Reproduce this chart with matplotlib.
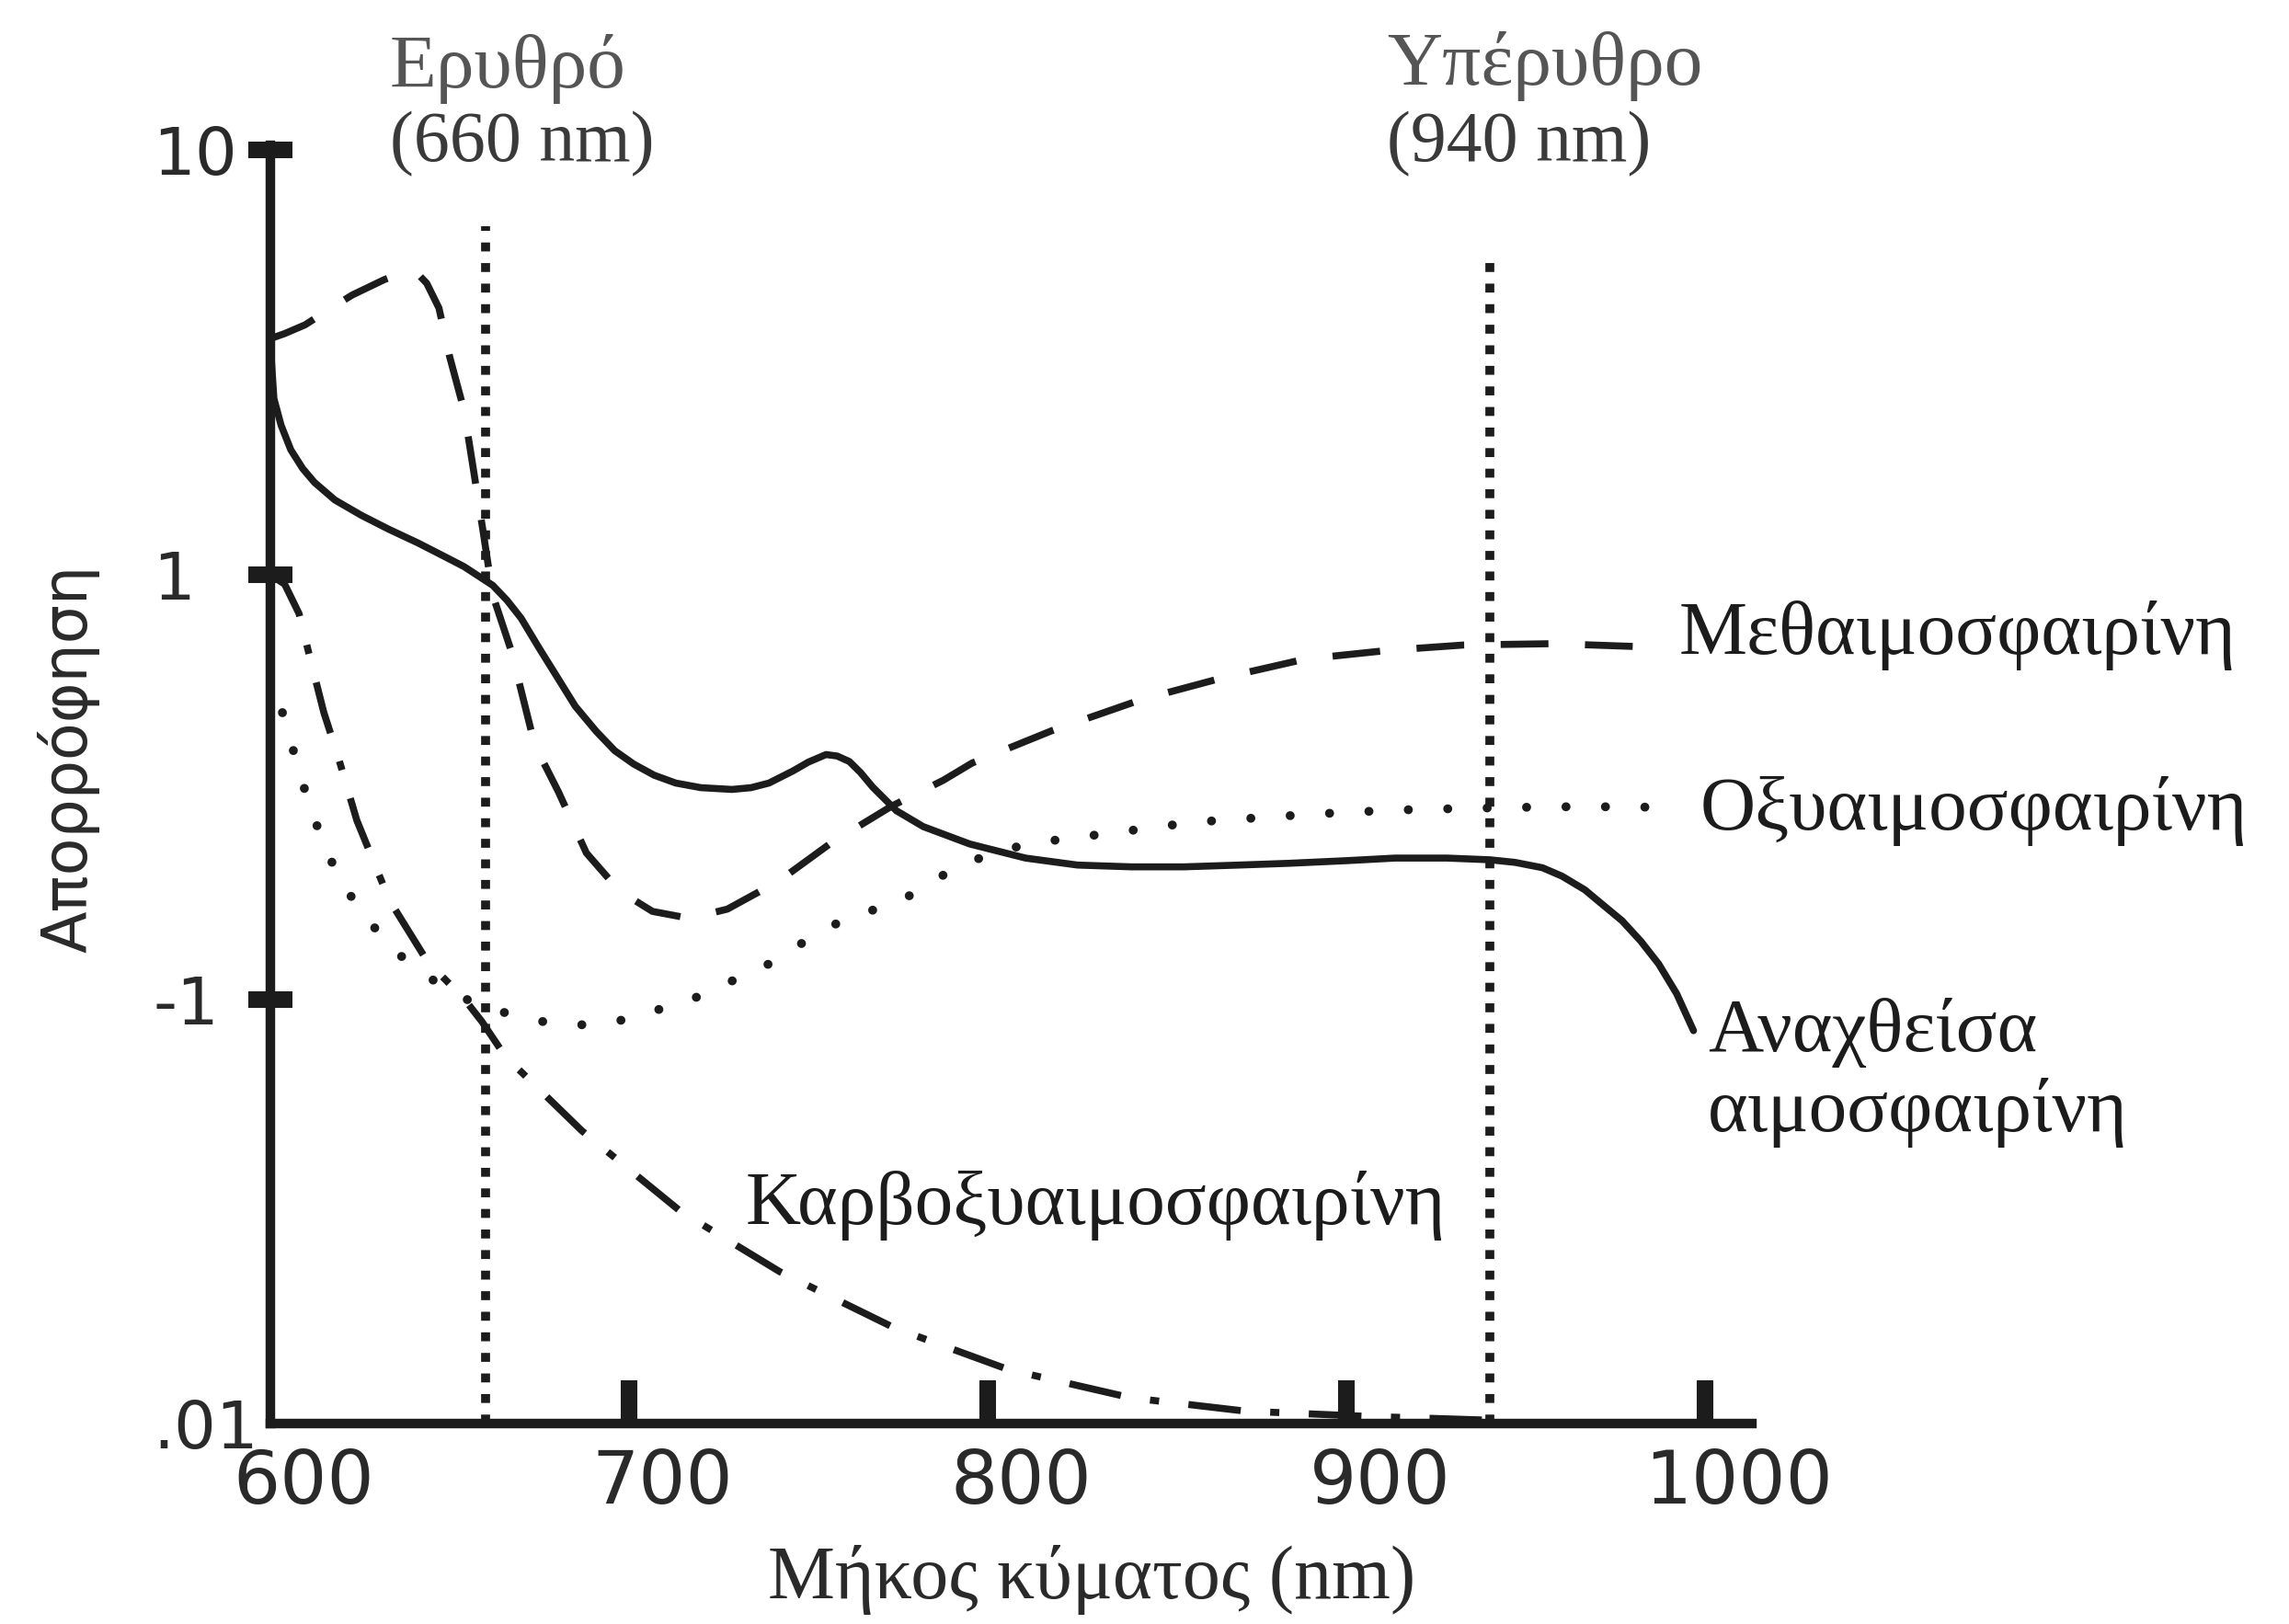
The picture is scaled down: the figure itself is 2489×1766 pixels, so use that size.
import matplotlib
matplotlib.use("Agg")
import matplotlib.pyplot as plt
from matplotlib.ticker import NullLocator
from matplotlib.transforms import ScaledTranslation

# -------- data (wavelength nm -> absorption, log scale) -------- #
deoxy_nm = [600, 601, 603, 605.7, 609, 612.3, 618, 625.4, 633, 641, 648, 654, 662, 666,
            669.9, 675, 680.4, 685, 690.8, 696, 701.3, 707, 713, 720, 728.7, 734, 739,
            745.7, 750, 754.9, 758, 761.4, 764.5, 767.9, 774.5, 782, 795, 810.5, 825,
            840, 854.6, 870, 884, 900, 913.5, 928, 940, 947, 954.6, 960, 966.4, 971,
            976.8, 982, 987, 992, 996.7]
deoxy_abs = [3.5, 2.6, 2.25, 1.97, 1.78, 1.65, 1.5, 1.38, 1.28, 1.19, 1.11, 1.045, 0.944,
             0.87, 0.79, 0.67, 0.566, 0.49, 0.428, 0.385, 0.358, 0.337, 0.323, 0.315,
             0.312, 0.315, 0.323, 0.345, 0.362, 0.377, 0.374, 0.363, 0.342, 0.316,
             0.278, 0.255, 0.232, 0.215, 0.207, 0.205, 0.205, 0.207, 0.209, 0.212,
             0.215, 0.215, 0.213, 0.21, 0.204, 0.195, 0.181, 0.168, 0.153, 0.137,
             0.121, 0.103, 0.0843]

met_nm = [600, 604, 609.7, 616, 622.8, 631.8, 637, 640.4, 643.6, 647, 650, 654, 656.7,
          659.4, 662, 667.2, 673.7, 680.3, 688.1, 697.3, 706.5, 716.9, 727.4, 741.8,
          756.2, 773.2, 787.6, 795.6, 817.8, 842.8, 864.9, 888.5, 912, 932.6, 957.7, 986]
met_abs = [3.6, 3.7, 3.88, 4.2, 4.56, 4.96, 5.15, 5.19, 4.86, 4.25, 3.26, 2.44, 1.75,
           1.25, 0.895, 0.66, 0.397, 0.308, 0.221, 0.18, 0.161, 0.155, 0.163, 0.19,
           0.233, 0.285, 0.328, 0.36, 0.429, 0.508, 0.57, 0.633, 0.664, 0.683, 0.688,
           0.675]

oxy_nm = [600, 601.5, 604.4, 607.7, 610.9, 614.9, 619.4, 626, 633.2, 642.4, 651.5, 659,
          674, 684.6, 696.3, 707, 718.7, 728.3, 738.9, 748.5, 758, 777, 789.7, 800, 811,
          822, 834, 845, 857, 868, 890.8, 913.5, 937, 957.7, 981, 993]
oxy_abs = [0.58, 0.54, 0.44, 0.354, 0.285, 0.233, 0.19, 0.159, 0.133, 0.115, 0.103,
           0.096, 0.089, 0.0867, 0.0885, 0.0938, 0.101, 0.11, 0.121, 0.136, 0.151,
           0.173, 0.201, 0.219, 0.232, 0.239, 0.246, 0.253, 0.261, 0.265, 0.273,
           0.279, 0.282, 0.284, 0.284, 0.281]

carboxy_nm = [600, 604, 608, 611, 614.9, 619, 624.1, 633.2, 643.7, 654.1, 659, 665.5,
              686.8, 714.4, 742, 774, 805.8, 839.9, 871.8, 905.8, 937.7]
carboxy_abs = [1.0, 0.95, 0.81, 0.64, 0.474, 0.37, 0.264, 0.171, 0.123, 0.1, 0.0885,
               0.0733, 0.049, 0.0316, 0.0228, 0.0168, 0.0134, 0.0115, 0.0107, 0.0104,
               0.0102]

# marker wavelengths and the height their dotted guides reach
guide_nm = [660, 940]
guide_top = [6.64, 5.73]

x_ticks = [600, 700, 800, 900, 1000]
y_ticks = [0.01, 0.1, 1, 10]
y_tick_labels = [".01", "-1", "1", "10"]

INK = "#1c1c1c"
SERIF = ["Liberation Serif", "DejaVu Serif"]
SANS = ["DejaVu Sans"]

fig = plt.figure(figsize=(24.89, 17.66), dpi=100)
ax = fig.add_axes([0.1181, 0.1234, 0.6473, 0.7874])
ax.set_yscale("log")
ax.set_xlim(600, 1013)
ax.set_ylim(0.01, 10.3)

# guides
for x, top in zip(guide_nm, guide_top):
    ax.plot([x, x], [0.01, top], color=INK, lw=7, linestyle=(0, (1, 1.3)),
            dash_capstyle="butt", zorder=2)

# curves
ax.plot(deoxy_nm, deoxy_abs, color=INK, lw=5.5, solid_capstyle="round",
        solid_joinstyle="round", zorder=3)
ax.plot(met_nm, met_abs, color=INK, lw=5.5, linestyle=(0, (6.8, 5.2)),
        dash_capstyle="butt", zorder=3)
ax.plot(oxy_nm, oxy_abs, color=INK, lw=7, linestyle=(0, (0.01, 4.4)),
        dash_capstyle="round", zorder=3)
ax.plot(carboxy_nm, carboxy_abs, color=INK, lw=5.5,
        linestyle=(0, (7.5, 4.2, 1.3, 4.2)), dash_capstyle="butt", zorder=3)

# axes styling
for side in ["top", "right"]:
    ax.spines[side].set_visible(False)
for side in ["left", "bottom"]:
    ax.spines[side].set_linewidth(7.5)
    ax.spines[side].set_color(INK)

ax.set_xticks(x_ticks)
ax.set_xticklabels([str(v) for v in x_ticks])
ax.set_yticks(y_ticks)
ax.set_yticklabels(y_tick_labels)
ax.yaxis.set_minor_locator(NullLocator())
ax.xaxis.set_minor_locator(NullLocator())

ax.tick_params(axis="x", direction="in", length=34, width=13, color=INK,
               pad=19, labelsize=58, labelcolor="#2a2a2a")
ax.tick_params(axis="y", direction="inout", length=34, width=13, color=INK,
               pad=75, labelsize=52, labelcolor="#2a2a2a")
for lab in ax.get_xticklabels() + ax.get_yticklabels():
    lab.set_family(SANS)
for lab in ax.get_yticklabels():
    lab.set_horizontalalignment("left")
for lab in ax.get_xticklabels():
    lab.set_transform(lab.get_transform() + ScaledTranslation(0.36, 0, fig.dpi_scale_trans))

# no tick marks at the origin corner
ax.xaxis.get_major_ticks()[0].tick1line.set_visible(False)
ax.yaxis.get_major_ticks()[0].tick1line.set_visible(False)

# headers over the guides
fig.text(0.1703, 0.946, "Ερυθρό", family=SERIF, fontsize=60, color="#555555", va="baseline")
fig.text(0.1703, 0.901, "(660 nm)", family=SERIF, fontsize=56, color="#3a3a3a", va="baseline")
fig.text(0.6059, 0.948, "Υπέρυθρο", family=SERIF, fontsize=60, color="#555555", va="baseline")
fig.text(0.6059, 0.901, "(940 nm)", family=SERIF, fontsize=56, color="#3a3a3a", va="baseline")

# curve names
fig.text(0.7333, 0.5974, "Μεθαιμοσφαιρίνη", family=SERIF, fontsize=60, color=INK, va="baseline")
fig.text(0.7429, 0.4892, "Οξυαιμοσφαιρίνη", family=SERIF, fontsize=60, color=INK, va="baseline")
fig.text(0.7461, 0.3528, "Αναχθείσα", family=SERIF, fontsize=60, color=INK, va="baseline")
fig.text(0.7461, 0.3035, "αιμοσφαιρίνη", family=SERIF, fontsize=60, color=INK, va="baseline")
fig.text(0.3255, 0.2463, "Καρβοξυαιμοσφαιρίνη", family=SERIF, fontsize=60, color=INK, va="baseline")

# axis titles
fig.text(0.477, 0.0159, "Μήκος κύματος (nm)", family=SERIF, fontsize=59, color="#2a2a2a",
         ha="center", va="baseline")
fig.text(0.0301, 0.533, "Απορρόφηση", family=SANS, fontsize=48, color="#2a2a2a",
         rotation=90, ha="center", va="center")

fig.savefig("out.png", dpi=100, facecolor="white")
